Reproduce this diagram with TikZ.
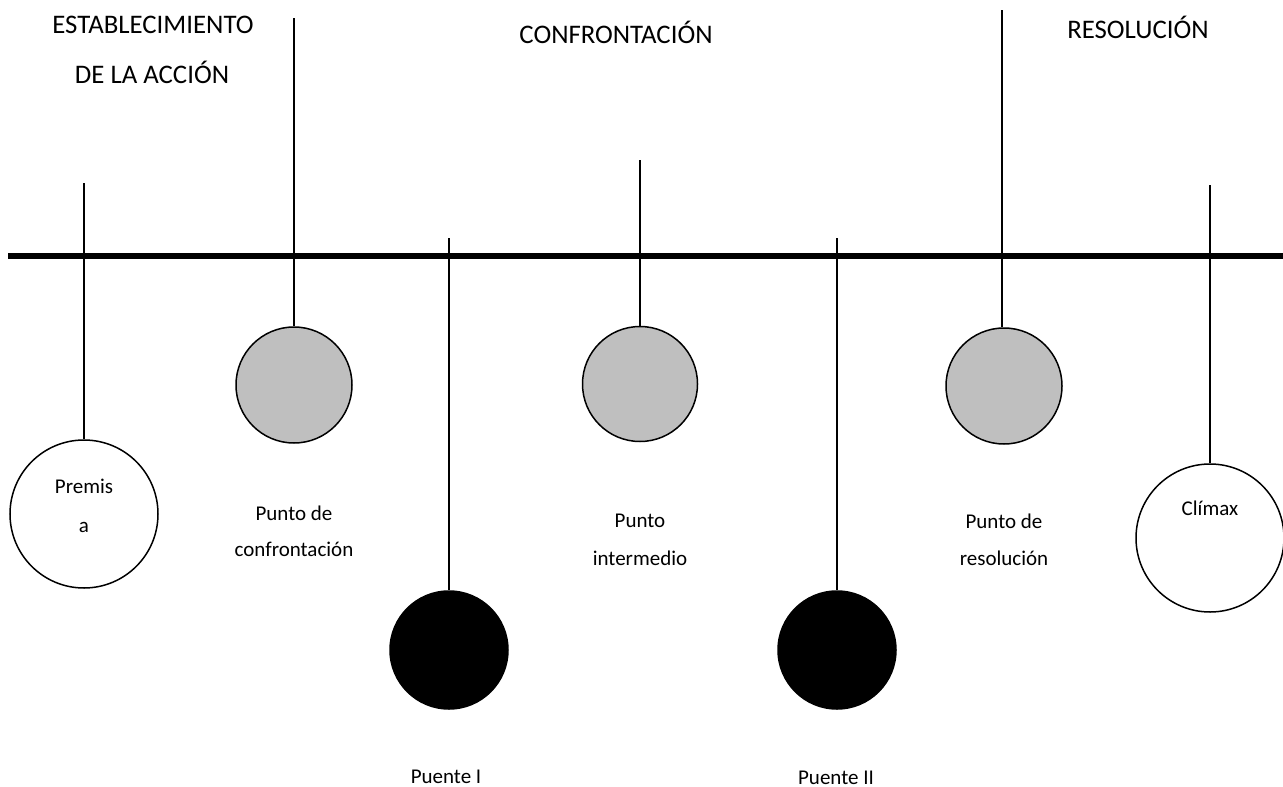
\documentclass[tikz,border=0pt]{standalone}
\usepackage{fontspec}
\setmainfont{Carlito}
\definecolor{ballgray}{HTML}{BFBFBF}
\begin{document}
\begin{tikzpicture}[x=1pt,y=-1pt,
  stem/.style={line width=2.4pt},
  ball/.style={circle,draw,line width=1.5pt,inner sep=0pt},
  bigtxt/.style={font=\fontsize{26.8}{30}\selectfont,inner sep=0pt,anchor=base},
  smalltxt/.style={font=\fontsize{21}{24}\selectfont,inner sep=0pt,anchor=base}]
\useasboundingbox (0,0) rectangle (1283,787);
% main timeline
\coordinate (L) at (8,256);
\coordinate (R) at (1283,256);
\draw[line width=6pt] (L) -- (R);
% balls
\node[ball,minimum size=148pt,fill=white] (premisa) at (84,514) {};
\node[ball,minimum size=116pt,fill=ballgray] (confr) at (294,385) {};
\node[ball,minimum size=118pt,fill=black] (puente1) at (449,650) {};
\node[ball,minimum size=115pt,fill=ballgray] (inter) at (640,384) {};
\node[ball,minimum size=118pt,fill=black] (puente2) at (837,650) {};
\node[ball,minimum size=116pt,fill=ballgray] (resol) at (1004,386) {};
\node[ball,minimum size=148pt,fill=white] (climax) at (1210,538) {};
% stems
\coordinate (t1) at (84,183);
\coordinate (t2) at (294,18);
\coordinate (t3) at (449,238);
\coordinate (t4) at (640,160);
\coordinate (t5) at (837,238);
\coordinate (t6) at (1002,10);
\coordinate (t7) at (1210,185);
\draw[stem] (t1) -- (premisa.north);
\draw[stem] (t2) -- (confr.north);
\draw[stem] (t3) -- (puente1.north);
\draw[stem] (t4) -- (inter.north);
\draw[stem] (t5) -- (puente2.north);
\draw[stem] (t6) -- (resol.north -| t6);
\draw[stem] (t7) -- (climax.north);
% section titles
\node[bigtxt] (h1a) at (153,33) {ESTABLECIMIENTO};
\node[bigtxt] (h1b) at (152,83) {DE LA ACCIÓN};
\node[bigtxt] (h2) at (616,43) {CONFRONTACIÓN};
\node[bigtxt] (h3) at (1138,38) {RESOLUCIÓN};
% labels
\node[smalltxt] (p1) at (84,493) {Premis};
\node[smalltxt] (p2) at (84,532) {a};
\node[smalltxt] (c1) at (294,520) {Punto de};
\node[smalltxt] (c2) at (294,556) {confrontación};
\node[smalltxt] (b1) at (446,783) {Puente I};
\node[smalltxt] (i1) at (640,527) {Punto};
\node[smalltxt] (i2) at (640,565) {intermedio};
\node[smalltxt] (b2) at (836,784) {Puente II};
\node[smalltxt] (r1) at (1004,528) {Punto de};
\node[smalltxt] (r2) at (1004,565) {resolución};
\node[smalltxt] (cl) at (1210,515) {Clímax};
\end{tikzpicture}
\end{document}
